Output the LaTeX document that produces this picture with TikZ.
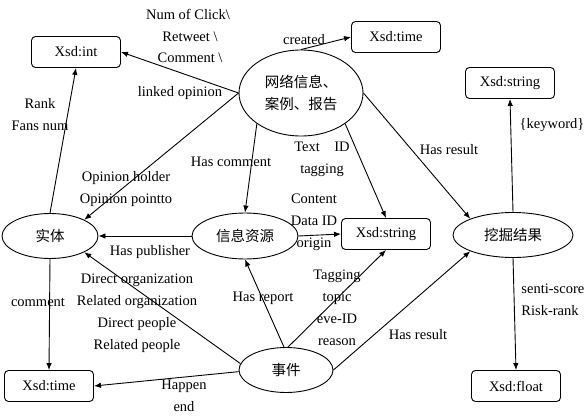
\documentclass[tikz,border=0pt]{standalone}
\usepackage{fontspec}
\setmainfont{Liberation Serif}
\newfontfamily\cjk{Noto Sans CJK SC}
\usetikzlibrary{shapes.geometric,arrows.meta}
\begin{document}
\begin{tikzpicture}[x=1pt,y=-1pt,
    font=\fontsize{14.5}{22}\selectfont,
    line width=0.9pt,
    >={Latex[length=7pt,width=5.5pt]},
    xsd/.style={draw,rounded corners=4pt,minimum width=89pt,minimum height=31pt,inner sep=0pt},
    ent/.style={draw,ellipse,inner sep=0pt},
    lab/.style={align=center,inner sep=0pt}]
    \useasboundingbox (0,0) rectangle (586,417);

    % classes
    \node[ent,minimum width=124pt,minimum height=86pt,align=center] (net) at (301,93) {\cjk 网络信息、\\\cjk 案例、报告};
    \node[ent,minimum width=96pt,minimum height=45pt] (shiti) at (50,236) {\cjk 实体};
    \node[ent,minimum width=106pt,minimum height=46pt] (xinxi) at (245,236) {\cjk 信息资源};
    \node[ent,minimum width=120pt,minimum height=45pt] (wajue) at (513,235) {\cjk 挖掘结果};
    \node[ent,minimum width=94pt,minimum height=45pt] (event) at (286,370) {\cjk 事件};

    % data types
    \node[xsd] (int) at (76,52) {Xsd:int};
    \node[xsd] (time1) at (396,37) {Xsd:time};
    \node[xsd] (str1) at (510,83) {Xsd:string};
    \node[xsd] (str2) at (386,234) {Xsd:string};
    \node[xsd] (time2) at (49,386) {Xsd:time};
    \node[xsd] (float) at (516,386) {Xsd:float};

    % relations
    \draw[->] (net.west) -- (int.east);
    \draw[->] (net.north) -- (time1.west);
    \draw[->] (net.west) -- (shiti.north east);
    \draw[->] (net.south west) -- (xinxi.north);
    \draw[->] (net.south east) -- (str2.north);
    \draw[->] (net.east) -- (wajue.north west);
    \draw[->] (shiti.north) -- (int.south);
    \draw[->] (shiti.south) -- (time2.north);
    \draw[->] (xinxi.west) -- (shiti.east);
    \draw[->] (xinxi.east) -- (str2.west);
    \draw[->] (event.95) -- (xinxi.south);
    \draw[->] (event.85) -- (str2.south);
    \draw[->] (event.east) -- (wajue.south west);
    \draw[->] (event.172) -- (shiti.south east);
    \draw[->] (event.182) -- (time2.east);
    \draw[->] (wajue.north) -- (str1.south);
    \draw[->] (wajue.south) -- (float.north);

    % labels
    \node[lab] (lnum) at (188,14) {Num of Click\textbackslash};
    \node[lab] (lret) at (190,37) {Retweet \textbackslash};
    \node[lab] (lcom) at (190,58) {Comment \textbackslash};
    \node[lab] (llink) at (180,93) {linked opinion};
    \node[lab] (lcreated) at (304,40) {created};
    \node[lab] (lrank) at (40,115) {Rank\\Fans num};
    \node[lab] (lhascom) at (231,162) {Has comment};
    \node[lab] (ltext) at (322,159) {Text\quad ID\\tagging};
    \node[lab] (lres1) at (449,150) {Has result};
    \node[lab] (lkey) at (552,125) {\{keyword\}};
    \node[lab] (lopin) at (126,189) {Opinion holder\\Opinion pointto};
    \node[lab] (lcontent) at (314,222) {Content\\Data ID\\origin};
    \node[lab] (lpub) at (150,252) {Has publisher};
    \node[lab] (ldirect) at (137,313) {Direct organization\\Related organization\\Direct people\\Related people};
    \node[lab] (lcomment) at (38,302) {comment};
    \node[lab] (lreport) at (263,298) {Has report};
    \node[lab] (ltag) at (337,308) {Tagging\\topic\\eve-ID\\reason};
    \node[lab] (lres2) at (418,335) {Has result};
    \node[lab,align=left,anchor=west] (lsenti) at (521,300) {senti-score\\Risk-rank};
    \node[lab] (lhappen) at (184,396) {Happen\\end};
\end{tikzpicture}
\end{document}
